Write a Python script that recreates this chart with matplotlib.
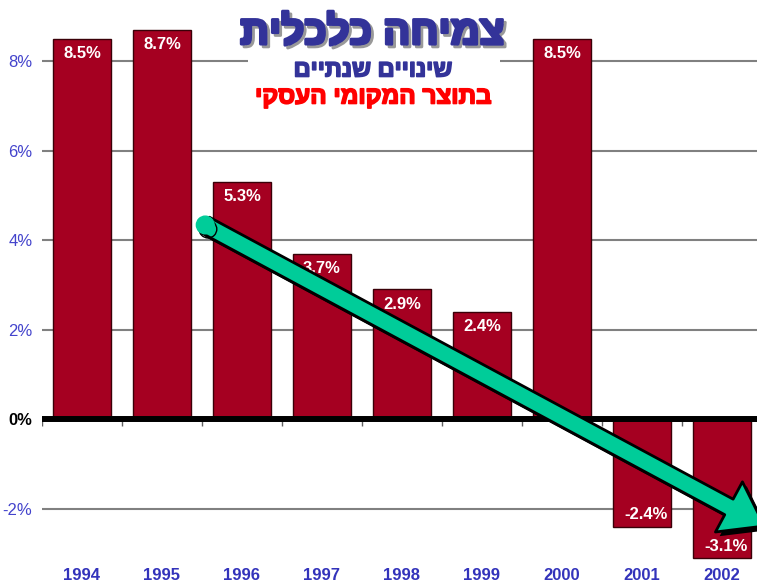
import matplotlib.pyplot as plt
from matplotlib.patches import FancyArrowPatch, Rectangle
import matplotlib.patheffects as pe

years = ['1994', '1995', '1996', '1997', '1998', '1999', '2000', '2001', '2002']
growth = [8.5, 8.7, 5.3, 3.7, 2.9, 2.4, 8.5, -2.4, -3.1]
yticks = [-2, 0, 2, 4, 6, 8]

title = 'צמיחה כלכלית'
sub1 = 'שינויים שנתיים'
sub2 = 'בתוצר המקומי העסקי'


def rtl(s):
    return s[::-1]


plt.rcParams['font.family'] = ['Liberation Sans', 'DejaVu Sans']

W, H = 757, 583
fig = plt.figure(figsize=(W / 100, H / 100), dpi=100)
# axes placed in pixel terms: x -0.5 at 42px, 80px per slot; y 0 at 419.5px, 44.8px per %
ax = fig.add_axes([42 / W, (H - 565) / H, 720 / W, 560 / H])
ax.set_xlim(-0.5, 8.5)
ax.set_ylim(-3.25, 9.25)
for s in ax.spines.values():
    s.set_visible(False)

x = list(range(len(years)))
ax.bar(x, growth, width=0.725, color='#A50021', edgecolor='#3a0008', linewidth=1, zorder=2)

for v in yticks:
    if v != 0:
        ax.axhline(v, color='#808080', lw=1.5, zorder=1)
ax.axhline(0, color='black', lw=4.3, zorder=3, solid_capstyle='round')
ax.vlines([i - 0.5 for i in range(len(years) + 1)], -0.15, 0, color='#606060', lw=1, zorder=1)

ax.set_yticks(yticks)
ax.set_yticklabels([f'{v}%' for v in yticks])
ax.tick_params(axis='y', length=0, pad=7, labelsize=12, labelcolor='#4444CC')
for lab, v in zip(ax.get_yticklabels(), yticks):
    if v == 0:
        lab.set_color('black')
        lab.set_fontweight('bold')
ax.set_xticks(x)
ax.set_xticklabels(years)
ax.tick_params(axis='x', length=0, pad=2, labelsize=12, labelcolor='#3333BB')
for lab in ax.get_xticklabels():
    lab.set_fontweight('bold')

for xi, v in zip(x, growth):
    if v > 0:
        ax.text(xi, v - 0.16, f'{v}%', ha='center', va='top', color='white',
                fontsize=12, fontweight='bold', zorder=4)
    else:
        ax.text(xi + 0.05, v + 0.1, f'{v}%', ha='center', va='bottom', color='white',
                fontsize=12, fontweight='bold', zorder=4)

# trend arrow
shadow = [pe.SimplePatchShadow(offset=(3, -3), shadow_rgbFace='black', alpha=1), pe.Normal()]
arr = FancyArrowPatch((1.54, 4.34), (8.53, -2.38),
                      arrowstyle='simple,head_length=2.9,head_width=4.1,tail_width=1.27',
                      mutation_scale=10, facecolor='#00CC99', edgecolor='black', lw=2,
                      shrinkA=0, shrinkB=0, zorder=6, clip_on=False, path_effects=shadow)
ax.add_patch(arr)
ax.plot([1.54], [4.34], 'o', ms=12.7, color='#00CC99', mec='#00CC99', zorder=6.5,
        path_effects=[pe.SimpleLineShadow(offset=(2, -3), shadow_color='black', alpha=1), pe.Normal()])

# titles with white backing over the gridline
fig.patches.append(Rectangle((248 / W, 1 - 110 / H), 252 / W, 100 / H, transform=fig.transFigure,
                             facecolor='white', edgecolor='none', zorder=5))
t = fig.text(372 / W, 1 - 33 / H, rtl(title), ha='center', va='center', fontsize=29,
             fontweight='bold', color='#333399', zorder=7)
t.set_path_effects([pe.Stroke(offset=(2, -2), linewidth=2.2, foreground='#999999'),
                    pe.Stroke(linewidth=2.2, foreground='#333399'), pe.Normal()])
t1 = fig.text(373 / W, 1 - 70 / H, rtl(sub1), ha='center', va='center', fontsize=17,
              fontweight='bold', color='#333399', zorder=7)
t2 = fig.text(373 / W, 1 - 97 / H, rtl(sub2), ha='center', va='center', fontsize=17.5,
              fontweight='bold', color='#FF0000', zorder=7)
for tt, c in ((t1, '#333399'), (t2, '#FF0000')):
    tt.set_path_effects([pe.Stroke(linewidth=1.2, foreground=c), pe.Normal()])

fig.savefig('out.png', dpi=100)
